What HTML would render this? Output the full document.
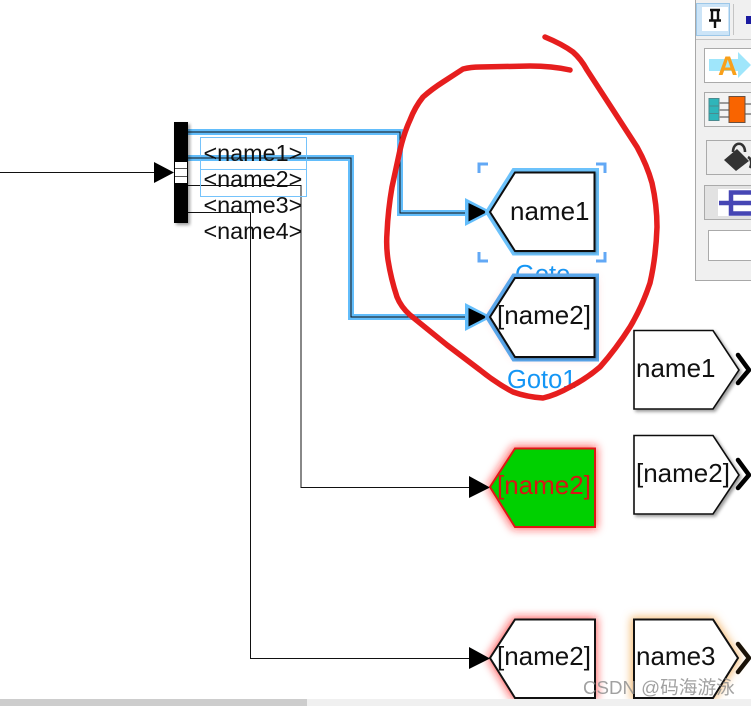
<!DOCTYPE html>
<html>
<head>
<meta charset="utf-8">
<style>
html,body{margin:0;padding:0;background:#fff;width:751px;height:706px;overflow:hidden}
svg{display:block;position:absolute;left:0;top:0}
text{font-family:"Liberation Sans","Noto Sans CJK SC",sans-serif}
</style>
</head>
<body>
<svg width="751" height="706" viewBox="0 0 751 706" xmlns="http://www.w3.org/2000/svg">
<defs>
<filter id="sh" x="-20%" y="-20%" width="150%" height="150%"><feDropShadow dx="2" dy="2" stdDeviation="1.6" flood-color="#000" flood-opacity=".4"/></filter>
<filter id="shs" x="-20%" y="-20%" width="150%" height="150%"><feDropShadow dx="1" dy="1" stdDeviation="1" flood-color="#000" flood-opacity=".3"/></filter>
<filter id="glow" x="-30%" y="-30%" width="160%" height="160%"><feGaussianBlur stdDeviation="4.5"/></filter>
<clipPath id="canvas"><rect x="0" y="0" width="751" height="699"/></clipPath>
</defs>

<!-- Toolbar palette -->
<rect x="695" y="0" width="56" height="280" fill="#f0f0f0"/>
<path d="M695.5 0V280.5H751" fill="none" stroke="#a8a8a8"/>
<path d="M696 39.5H751" stroke="#c4c4c4"/>
<rect x="696.5" y="3.5" width="33" height="32" fill="#cce4f7" stroke="#9cc7e8"/>
<rect x="702" y="7" width="26" height="24" fill="#fff"/>
<path d="M710 10H720M712 10V20M718 10V20M709 20.5H721M715 21V28" stroke="#111" stroke-width="2.4" fill="none"/>
<path d="M733.5 4V35" stroke="#c4c4c4"/>
<path d="M746 16L751 16V24H746ZM746 24L751 18" fill="#1a1aa0"/>

<rect x="704.5" y="48.5" width="47" height="34" fill="#fff" stroke="#aaa"/>
<path d="M709 59H738V52L751 65L738 78V71H709Z" fill="#9fe6fb"/>
<text x="718" y="75" font-size="27" font-weight="bold" fill="#f9a01a">A</text>

<rect x="704.5" y="92.5" width="47" height="34" fill="#f3f3f3" stroke="#aaa"/>
<rect x="709" y="98.5" width="10" height="8" fill="#2fb5ba" stroke="#4a8a8f"/>
<rect x="709" y="106" width="10" height="8" fill="#2fb5ba" stroke="#4a8a8f"/>
<rect x="709" y="113.5" width="10" height="7" fill="#2fb5ba" stroke="#4a8a8f"/>
<path d="M719 103H729M719 110H729M719 117H729M745 104H751M745 114H751" stroke="#9a9a9a" stroke-width="2"/>
<rect x="729" y="96.5" width="16" height="26" fill="#f96400" stroke="#6a5040"/>

<rect x="706.5" y="140.5" width="45" height="34" fill="#eeeeee" stroke="#aaa"/>
<path d="M724 160L737 149L749 161L736 171Z" fill="#333"/>
<path d="M733 152C733 141 745 141 745 152M748 157C753 160 751 166 750 168" fill="none" stroke="#333" stroke-width="2.6"/>

<rect x="704.5" y="185.5" width="47" height="34" fill="#e2e2e2" stroke="#aaa"/>
<rect x="718" y="189" width="33" height="27" fill="#fff"/>
<path d="M719 203H751M751 192.500H731V213.500H751" fill="none" stroke="#4646b4" stroke-width="4.500"/>

<rect x="708.5" y="230.5" width="43" height="30" fill="#fff" stroke="#aaa"/>

<!-- Wires -->
<path d="M188 132H400V213H470" fill="none" stroke="#62bdfb" stroke-width="6"/>
<path d="M188 158H351V317H470" fill="none" stroke="#62bdfb" stroke-width="6"/>
<path d="M188 132H400V213H470M188 158H351V317H470" fill="none" stroke="#111" stroke-width="1"/>
<path d="M0 172.5H155" stroke="#111" stroke-width="1"/>
<path d="M188 185.5H301V487.5H470M188 212.5H250.5V658.5H470" fill="none" stroke="#111" stroke-width="1"/>

<!-- Demux -->
<rect x="174" y="122" width="14" height="101" fill="#000" filter="url(#sh)"/>
<rect x="175" y="162" width="12" height="21" fill="#fff"/>
<path d="M175 168.500H187M175 176.500H187" stroke="#555"/>
<path d="M154 162L174 172.500L154 183Z" fill="#000"/>

<!-- Signal labels -->
<rect x="200.5" y="137.5" width="106" height="32" fill="none" stroke="#75c3fb"/>
<rect x="200.5" y="169.5" width="106" height="27" fill="none" stroke="#75c3fb"/>
<rect x="200" y="155" width="107" height="6" fill="#62bdfb" fill-opacity=".55"/>
<text x="203.500" y="161" font-size="23.400" fill="#111">&lt;name1&gt;</text>
<text x="203.500" y="187" font-size="23.400" fill="#111">&lt;name2&gt;</text>
<text x="203.500" y="213" font-size="23.400" fill="#111">&lt;name3&gt;</text>
<text x="203.500" y="239" font-size="23.400" fill="#111">&lt;name4&gt;</text>
<path d="M188 158H306" stroke="#111" stroke-width="1"/>

<!-- Goto label (partly hidden) -->
<text x="515" y="283" font-size="25.500" fill="#1496f5">Goto</text>

<!-- Selection corners -->
<path d="M479 173V164H488M596 164H605V173M479 252V261H488M596 261H605V252" fill="none" stroke="#62a8f5" stroke-width="3"/>

<!-- Goto block -->
<path d="M465 198L492 212L465 226Z" fill="#62bdfb"/>
<path d="M468.500 203L487 212L468.500 221.500Z" fill="#000"/>
<path d="M515 172.500H594.500V251H515L490 212Z" fill="none" stroke="#6cc2fb" stroke-width="9"/>
<path d="M515 172.500H594.500V251H515L490 212Z" fill="#fff" stroke="#111" stroke-width="2" filter="url(#shs)"/>
<text x="510" y="220" font-size="26" fill="#111">name1</text>

<!-- Goto1 block -->
<path d="M515 278H595V357H515L490 317Z" fill="#ff6a6a" fill-opacity=".6" filter="url(#glow)"/>
<path d="M465 303L492 317L465 331Z" fill="#62bdfb"/>
<path d="M468.500 308L487 317L468.500 326.500Z" fill="#000"/>
<path d="M515 278H594.500V357H515L490 317Z" fill="none" stroke="#5aa6ea" stroke-width="9"/>
<path d="M515 278H594.500V357H515L490 317Z" fill="#fff" stroke="#111" stroke-width="2" filter="url(#shs)"/>
<text x="497" y="324" font-size="26" fill="#111">[name2]</text>
<text x="507" y="388" font-size="25.500" fill="#1496f5">Goto1</text>

<!-- Green block -->
<path d="M513 446H597V529H513L487 487Z" fill="#ff2020" fill-opacity=".7" filter="url(#glow)"/>
<path d="M469 476L490 487.500L469 498Z" fill="#000"/>
<path d="M515 448.500H595V527H515L490 487Z" fill="#00d000" stroke="#e01515" stroke-width="2"/>
<text x="497" y="494" font-size="26" fill="#d81515">[name2]</text>

<!-- Bottom blocks -->
<g clip-path="url(#canvas)">
<path d="M513 617H597V700H513L487 658Z" fill="#ff2020" fill-opacity=".7" filter="url(#glow)"/>
<path d="M469 647L490 658.500L469 669Z" fill="#000"/>
<path d="M515 619.500H595V698H515L490 658Z" fill="#fff" stroke="#111" stroke-width="2"/>
<text x="497" y="665" font-size="26" fill="#111">[name2]</text>

<path d="M631 617H714L741 658L714 700H631Z" fill="#f2a94f" fill-opacity=".8" filter="url(#glow)"/>
<path d="M634 619.500H713L738 658L713 698H634Z" fill="#fff" stroke="#111" stroke-width="2"/>
<text x="636" y="665" font-size="26" fill="#111">name3</text>
<path d="M738 644L749 658L738 672" fill="none" stroke="#1a1208" stroke-width="4.500" stroke-linecap="round" stroke-linejoin="round"/>
</g>

<!-- From blocks -->
<path d="M634 330.500H713L739 370L713 409H634Z" fill="#fff" stroke="#111" stroke-width="1.600" filter="url(#sh)"/>
<text x="636" y="377" font-size="26" fill="#111">name1</text>
<path d="M738 355L749 370L738 383" fill="none" stroke="#000" stroke-width="4.500" stroke-linecap="round" stroke-linejoin="round"/>

<path d="M634 435.500H713L739 475L713 514H634Z" fill="#fff" stroke="#111" stroke-width="1.600" filter="url(#sh)"/>
<text x="636" y="482" font-size="26" fill="#111">[name2]</text>
<path d="M738 460L749 475L738 488" fill="none" stroke="#000" stroke-width="4.500" stroke-linecap="round" stroke-linejoin="round"/>

<!-- Red hand-drawn ring -->
<path d="M545 37Q562 44 573 52Q581 59 587 70L613 110L637 147Q647 165 652 183Q657 205 657 227Q656 257 650 283Q642 307 630 327Q616 349 600 367Q586 379 570 387Q556 395 543 398Q527 397 513 392Q496 383 480 370L447 345L410 315Q401 307 397 297Q391 279 388 260Q386 246 387 233Q388 210 392 187L400 150Q404 133 410 120Q415 107 423 97Q432 89 443 82L463 69Q471 67 480 67L530 66Q552 66 570 70" fill="none" stroke="#e61e1e" stroke-width="5.500" stroke-linecap="round" stroke-linejoin="round"/>

<!-- Scrollbar -->
<rect x="0" y="699" width="751" height="7" fill="#f0f0f0"/>
<rect x="0" y="699" width="307" height="7" fill="#cdcdcd"/>

<!-- Watermark -->
<text x="583" y="694" font-size="18.700" fill="#8a8a8a" fill-opacity=".8">CSDN @码海游泳</text>
</svg>
</body>
</html>
